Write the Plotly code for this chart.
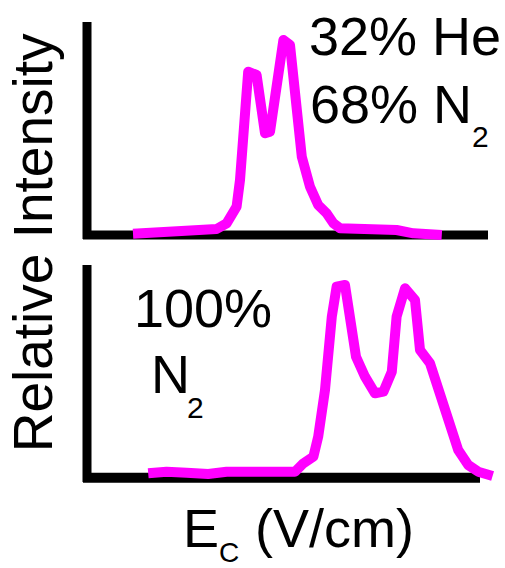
import plotly.graph_objects as go

# ---------------- data ----------------
# Top panel: 32% He / 68% N2  (E_C in arbitrary units, relative intensity in %)
ec_top = [11.5, 22.4, 32.4, 34.9, 37.4, 38.25, 39.5, 40.3, 42.4, 44.5, 45.75, 47.4,
          49.1, 50.75, 52.4, 53.7, 55.75, 57.8, 59.9, 61.6, 63.25, 69.1, 77.4, 81.6, 88.7]
int_top = [0.65, 2.5, 3.0, 5.85, 14.15, 27.5, 54.15, 81.65, 80.0, 50.85, 51.65, 74.15,
           97.5, 95.0, 59.15, 39.15, 24.15, 15.0, 10.85, 5.85, 3.35, 3.35, 2.5, 0.85, 0.0]

# Bottom panel: 100% N2
ec_bot = [15.3, 19.9, 24.9, 30.3, 34.9, 44.1, 52.0, 54.1, 56.6, 57.8, 59.5, 61.2, 62.4,
          64.5, 65.75, 67.25, 69.5, 72.0, 74.1, 76.2, 77.4, 79.5, 82.0, 83.25, 85.75,
          88.25, 90.75, 92.8, 95.3, 97.8, 101.4]
int_bot = [2.1, 2.9, 2.4, 1.75, 2.9, 3.4, 2.9, 7.1, 10.4, 20.4, 43.75, 80.4, 95.4,
           96.25, 80.4, 60.4, 50.4, 42.1, 42.9, 52.9, 80.4, 94.6, 88.75, 63.75, 57.1,
           42.1, 25.4, 13.75, 6.25, 2.9, 0.75]

label_top = ["32% He", "68% N", "2"]
label_bot = ["100%", "N", "2"]
x_title = ["E", "C", "(V/cm)"]
y_title = "Relative Intensity"

# ---------------- layout helpers ----------------
W, H = 505, 568
FONT = "Liberation Sans, Arial, Helvetica, sans-serif"
MAG = "#FF00FF"
S = 54      # main text size
SS = 30     # subscript size
ASC = 0.905


def px(x):
    return x / W


def py(y):
    return 1 - y / H


fig = go.Figure()
fig.add_trace(go.Scatter(x=ec_top, y=int_top, mode="lines",
                         line=dict(color=MAG, width=10), xaxis="x", yaxis="y",
                         showlegend=False, hoverinfo="skip"))
fig.add_trace(go.Scatter(x=ec_bot, y=int_bot, mode="lines",
                         line=dict(color=MAG, width=10), xaxis="x2", yaxis="y2",
                         showlegend=False, hoverinfo="skip"))

ax = dict(showgrid=False, zeroline=False, showline=False, showticklabels=False,
          ticks="", fixedrange=True)
xdom = [87 / W, 1.0]
xrng = [0, (W - 87) / 4]

shapes = []
LW = 9
# top panel axes
shapes.append(dict(type="line", xref="paper", yref="paper", x0=px(87), x1=px(87),
                   y0=py(22), y1=py(239), line=dict(color="black", width=LW), layer="below"))
shapes.append(dict(type="line", xref="paper", yref="paper", x0=px(83), x1=px(488),
                   y0=py(235), y1=py(235), line=dict(color="black", width=LW), layer="below"))
# bottom panel axes
shapes.append(dict(type="line", xref="paper", yref="paper", x0=px(87), x1=px(87),
                   y0=py(265), y1=py(482), line=dict(color="black", width=LW), layer="below"))
shapes.append(dict(type="line", xref="paper", yref="paper", x0=px(83), x1=px(480),
                   y0=py(477.7), y1=py(477.7), line=dict(color="black", width=LW + 1), layer="below"))


def ann(text, left, baseline, size):
    return dict(text=text, xref="paper", yref="paper", x=px(left),
                y=py(baseline - ASC * size), xanchor="left", yanchor="top",
                showarrow=False, borderpad=0, borderwidth=0,
                font=dict(family=FONT, size=size, color="black"))


annotations = [
    ann(label_top[0], 309.4, 55, S),
    ann(label_top[1], 309.7, 123.3, S),
    ann(label_top[2], 472, 146.7, SS),
    ann(label_bot[0], 134.1, 326.7, S),
    ann(label_bot[1], 151, 393.3, S),
    ann(label_bot[2], 187, 418.3, SS),
    ann(x_title[0], 183, 547, S),
    ann(x_title[1], 218.5, 562, 28),
    ann(x_title[2], 254.5, 547, S),
    dict(text=y_title, xref="paper", yref="paper", x=px(33.3), y=py(243),
         xanchor="center", yanchor="middle", textangle=-90, showarrow=False,
         borderpad=0, borderwidth=0, font=dict(family=FONT, size=55, color="black")),
]

fig.update_layout(
    width=W, height=H, margin=dict(l=0, r=0, t=0, b=0),
    paper_bgcolor="white", plot_bgcolor="white",
    xaxis=dict(domain=xdom, range=xrng, anchor="y", **ax),
    yaxis=dict(domain=[py(250), py(10)], range=[-7.5, 112.5], anchor="x", **ax),
    xaxis2=dict(domain=xdom, range=xrng, anchor="y2", **ax),
    yaxis2=dict(domain=[py(495), py(255)], range=[-8.75, 111.25], anchor="x2", **ax),
    shapes=shapes, annotations=annotations, showlegend=False,
)

fig.write_html(
    "out.html", config={"displayModeBar": False},
    post_script=(
        "document.body.style.margin='0';document.body.style.overflow='hidden';"
        "document.querySelectorAll('.scatterlayer path.js-line').forEach("
        "function(p){p.style.strokeLinejoin='round';});"
    ),
)
